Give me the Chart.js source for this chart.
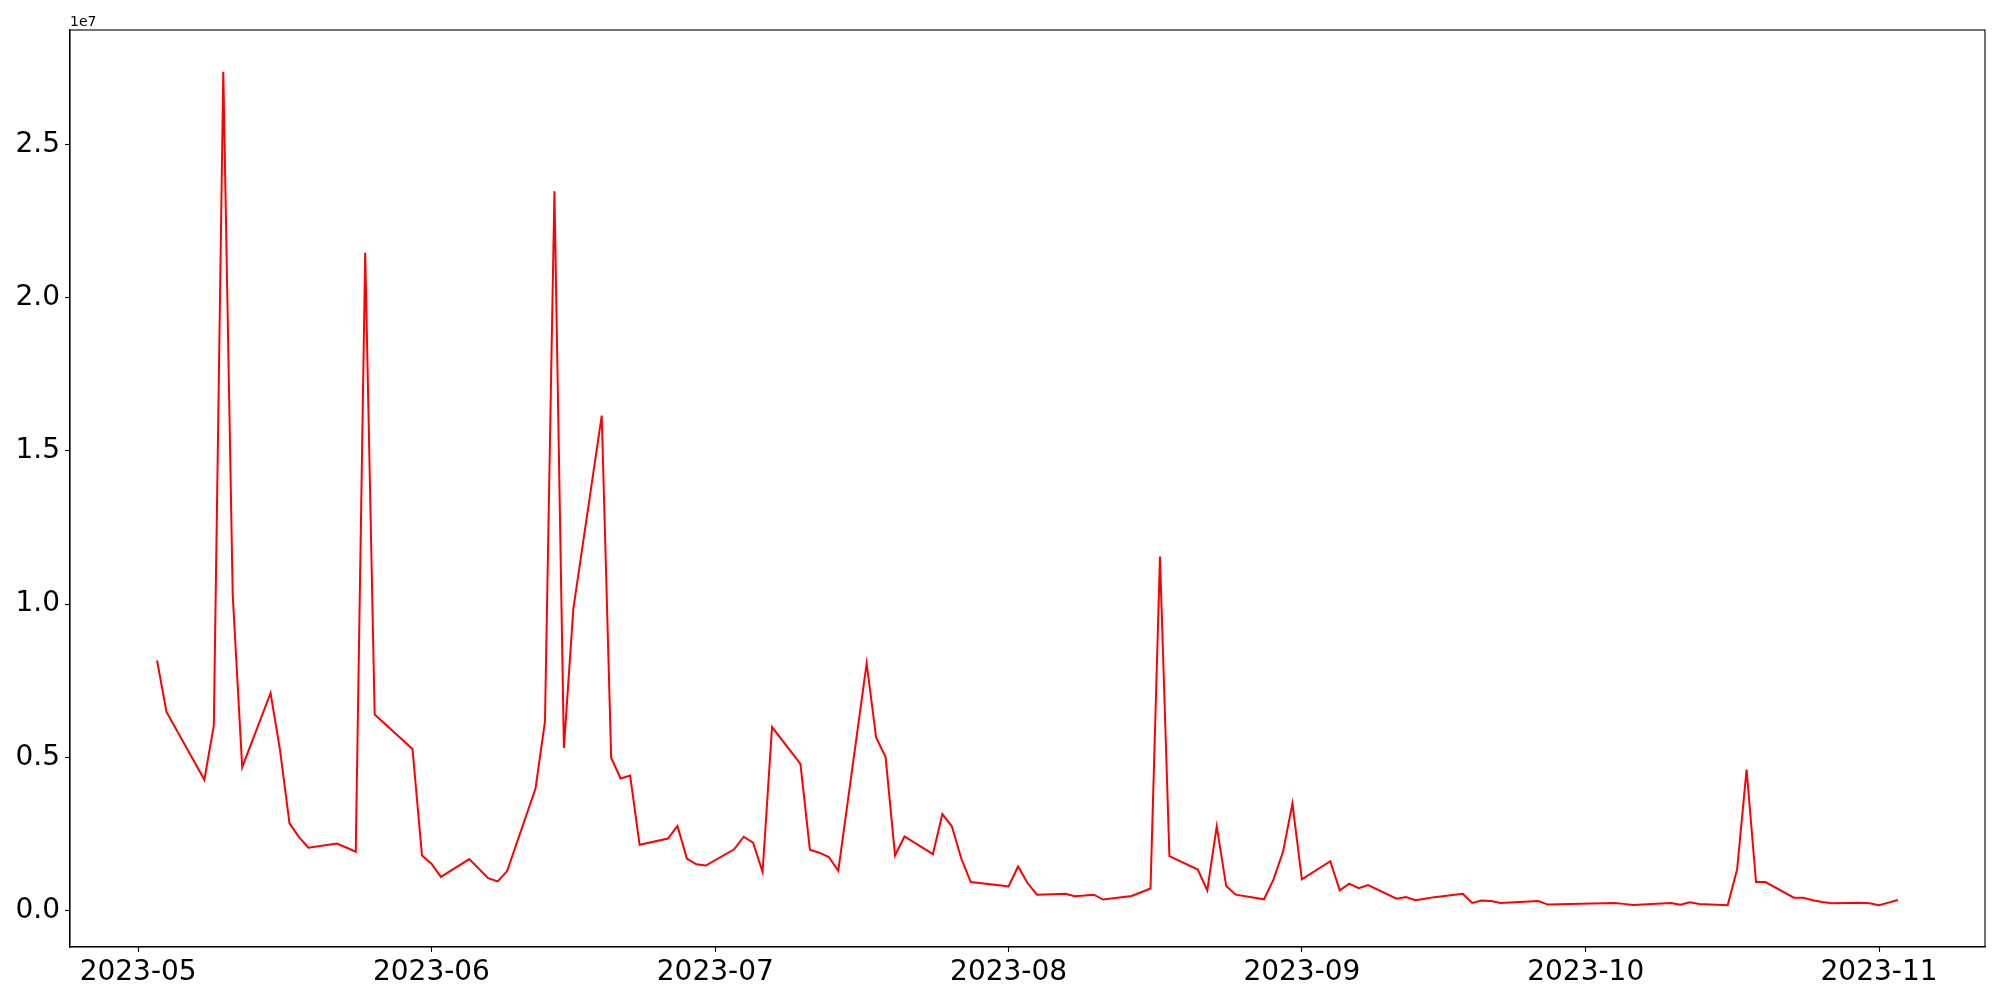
<!DOCTYPE html>
<html>
<head>
<meta charset="utf-8">
<script src="https://cdn.jsdelivr.net/npm/chart.js@4"></script>
<style>
  body { margin: 0; background: #fff; }
  canvas { display: block; }
</style>
</head>
<body>
<canvas id="linechart" width="2000" height="1000"></canvas>
<script>
// trading days (KRX holidays skipped) and daily values
const dates = [
  '2023-05-03', '2023-05-04', '2023-05-08', '2023-05-09', '2023-05-10', '2023-05-11', '2023-05-12',
  '2023-05-15', '2023-05-16', '2023-05-17', '2023-05-18', '2023-05-19', '2023-05-22', '2023-05-23',
  '2023-05-24', '2023-05-25', '2023-05-26', '2023-05-30', '2023-05-31',
  '2023-06-01', '2023-06-02', '2023-06-05', '2023-06-07', '2023-06-08', '2023-06-09', '2023-06-12',
  '2023-06-13', '2023-06-14', '2023-06-15', '2023-06-16', '2023-06-19', '2023-06-20', '2023-06-21',
  '2023-06-22', '2023-06-23', '2023-06-26', '2023-06-27', '2023-06-28', '2023-06-29', '2023-06-30',
  '2023-07-03', '2023-07-04', '2023-07-05', '2023-07-06', '2023-07-07', '2023-07-10', '2023-07-11',
  '2023-07-12', '2023-07-13', '2023-07-14', '2023-07-17', '2023-07-18', '2023-07-19', '2023-07-20',
  '2023-07-21', '2023-07-24', '2023-07-25', '2023-07-26', '2023-07-27', '2023-07-28', '2023-07-31',
  '2023-08-01', '2023-08-02', '2023-08-03', '2023-08-04', '2023-08-07', '2023-08-08', '2023-08-09',
  '2023-08-10', '2023-08-11', '2023-08-14', '2023-08-16', '2023-08-17', '2023-08-18', '2023-08-21',
  '2023-08-22', '2023-08-23', '2023-08-24', '2023-08-25', '2023-08-28', '2023-08-29', '2023-08-30',
  '2023-08-31',
  '2023-09-01', '2023-09-04', '2023-09-05', '2023-09-06', '2023-09-07', '2023-09-08', '2023-09-11',
  '2023-09-12', '2023-09-13', '2023-09-14', '2023-09-15', '2023-09-18', '2023-09-19', '2023-09-20',
  '2023-09-21', '2023-09-22', '2023-09-25', '2023-09-26', '2023-09-27',
  '2023-10-04', '2023-10-05', '2023-10-06', '2023-10-10', '2023-10-11', '2023-10-12', '2023-10-13',
  '2023-10-16', '2023-10-17', '2023-10-18', '2023-10-19', '2023-10-20', '2023-10-23', '2023-10-24',
  '2023-10-25', '2023-10-26', '2023-10-27', '2023-10-30', '2023-10-31',
  '2023-11-01', '2023-11-02', '2023-11-03'
];
const values = [
  8160000, 6480000, 4270000, 6040000, 27370000, 10280000, 4680000,
  7100000, 5230000, 2850000, 2400000, 2050000, 2190000, 2060000,
  1920000, 21460000, 6400000, 5270000, 1800000,
  1530000, 1100000, 1680000, 1060000, 955000, 1290000, 3980000,
  6170000, 23470000, 5310000, 9850000, 16150000, 4980000, 4310000,
  4410000, 2150000, 2350000, 2760000, 1700000, 1510000, 1470000,
  2000000, 2410000, 2220000, 1260000, 5990000, 4790000, 1990000,
  1890000, 1750000, 1300000, 8070000, 5650000, 5010000, 1800000,
  2420000, 1840000, 3150000, 2750000, 1700000, 930000, 830000,
  790000, 1440000, 900000, 520000, 550000, 470000, 490000,
  520000, 360000, 480000, 720000, 11550000, 1780000, 1340000,
  660000, 2750000, 800000, 520000, 370000, 1020000, 1910000,
  3490000,
  1020000, 1610000, 660000, 880000, 730000, 835000, 390000,
  440000, 336000, 390000, 440000, 550000, 250000, 326000,
  310000, 250000, 300000, 310000, 196000,
  250000, 220000, 180000, 250000, 196000, 270000, 215000,
  173000, 1350000, 4600000, 930000, 930000, 420000, 420000,
  336000, 280000, 240000, 260000, 240000,
  173000, 260000, 346000
];
const tickDates = ['2023-05-01', '2023-06-01', '2023-07-01', '2023-08-01', '2023-09-01', '2023-10-01', '2023-11-01'];
const tickLabels = ['2023-05', '2023-06', '2023-07', '2023-08', '2023-09', '2023-10', '2023-11'];
const yTicks = [0, 5000000, 10000000, 15000000, 20000000, 25000000];

const DAY = 86400000;
const origin = Date.parse('2023-05-01T00:00:00Z');
const toDay = d => (Date.parse(d + 'T00:00:00Z') - origin) / DAY;

const points = dates.map((d, i) => ({ x: toDay(d), y: values[i] }));
const xTickVals = tickDates.map(toDay);

// matplotlib-like 5% margins
const xs = points.map(p => p.x);
const xMin = Math.min(...xs), xMax = Math.max(...xs);
const yMin = Math.min(...values), yMax = Math.max(...values);
const xPad = (xMax - xMin) * 0.05, yPad = (yMax - yMin) * 0.05;

const FONT = 'DejaVu Sans';

const framePlugin = {
  id: 'frame',
  afterDraw(chart) {
    const { ctx, chartArea: a } = chart;
    ctx.save();
    ctx.strokeStyle = '#000';
    ctx.lineWidth = 1.1;
    ctx.strokeRect(a.left, a.top, a.right - a.left, a.bottom - a.top);
    ctx.fillStyle = '#000';
    ctx.font = '14px "' + FONT + '"';
    ctx.textAlign = 'left';
    ctx.textBaseline = 'alphabetic';
    ctx.fillText('1e7', a.left, a.top - 4);
    ctx.restore();
  }
};

const ctx = document.getElementById('linechart').getContext('2d');
const linechart = new Chart(ctx, {
  type: 'line',
  data: {
    datasets: [{
      data: points,
      borderColor: '#ff0000',
      borderWidth: 2,
      pointRadius: 0,
      tension: 0,
      fill: false
    }]
  },
  options: {
    responsive: false,
    animation: false,
    layout: { padding: { top: 30, right: 15, left: 0, bottom: 0 } },
    plugins: {
      legend: { display: false },
      tooltip: { enabled: false }
    },
    scales: {
      x: {
        type: 'linear',
        min: xMin - xPad,
        max: xMax + xPad,
        afterBuildTicks: s => { s.ticks = xTickVals.map(v => ({ value: v })); },
        afterFit: s => { s.height = 53; },
        grid: { drawOnChartArea: false, drawTicks: true, tickLength: 5, tickWidth: 1.1, tickColor: '#000' },
        border: { display: true, color: '#000', width: 1.1 },
        ticks: {
          color: '#000',
          padding: 4,
          maxRotation: 0,
          autoSkip: false,
          font: { family: FONT, size: 28 },
          callback: (v, i) => tickLabels[i]
        }
      },
      y: {
        type: 'linear',
        min: yMin - yPad,
        max: yMax + yPad,
        afterBuildTicks: s => { s.ticks = yTicks.map(v => ({ value: v })); },
        afterFit: s => { s.width = 70; },
        grid: { drawOnChartArea: false, drawTicks: true, tickLength: 5, tickWidth: 1.1, tickColor: '#000' },
        border: { display: true, color: '#000', width: 1.1 },
        ticks: {
          color: '#000',
          padding: 5,
          font: { family: FONT, size: 28 },
          callback: v => (v / 1e7).toFixed(1)
        }
      }
    }
  },
  plugins: [framePlugin]
});
</script>
</body>
</html>
